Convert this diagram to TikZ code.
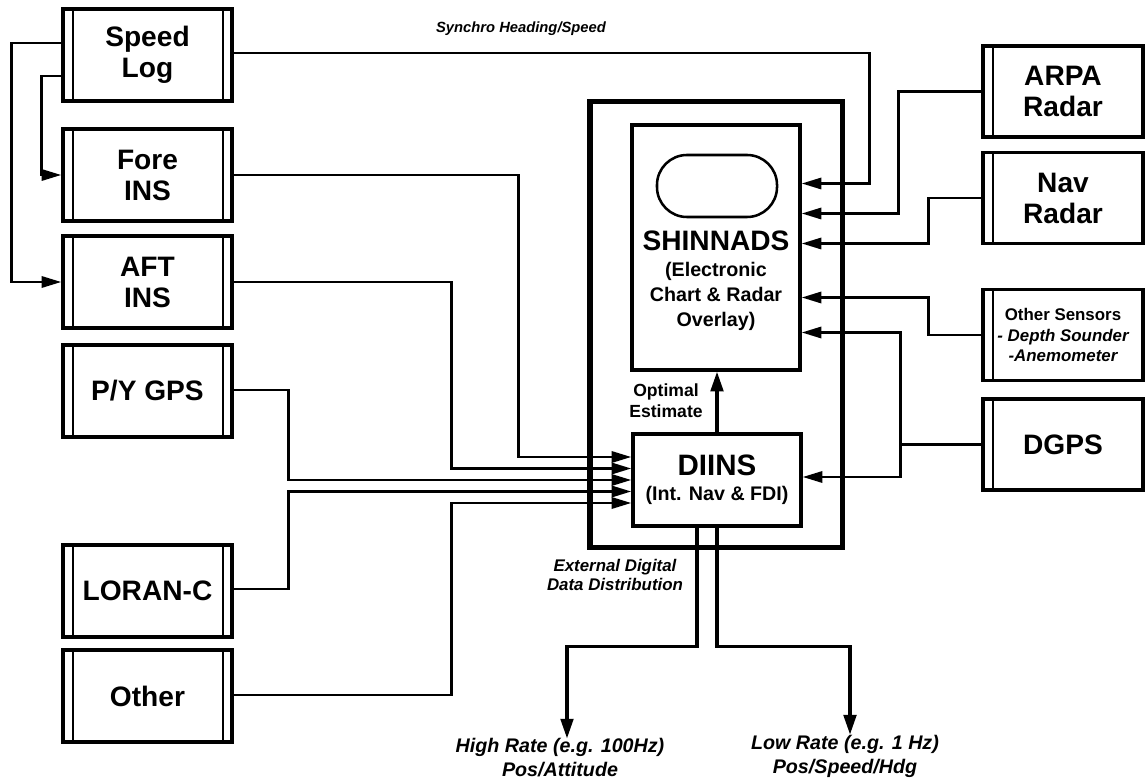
\documentclass[tikz,border=0pt]{standalone}
\usepackage{fontspec}
\setmainfont{Liberation Sans}
\usepackage{tikz}
\usetikzlibrary{arrows.meta, calc}

\begin{document}
\begin{tikzpicture}[
  x=0.025cm, y=-0.025cm,
  wire/.style={line width=1.8pt},
  arrow/.style={-{Triangle[length=14pt,width=8pt]}, line width=1.8pt},
  fatarrow/.style={-{Triangle[length=14pt,width=9pt]}, line width=2.2pt},
  boxfont/.style={font=\fontsize{20}{22}\selectfont\bfseries},
  srcbox/.style={rectangle, draw, line width=2.4pt, boxfont, align=center,
                 minimum width=4.225cm, minimum height=2.3cm,
                 path picture={
                   \draw[line width=1.4pt]
                     ([xshift=0.25cm]path picture bounding box.south west) --
                     ([xshift=0.25cm]path picture bounding box.north west);
                   \draw[line width=1.4pt]
                     ([xshift=-0.22cm]path picture bounding box.south east) --
                     ([xshift=-0.22cm]path picture bounding box.north east);}},
  sidebox/.style={rectangle, draw, line width=2.4pt, boxfont, align=center,
                 minimum width=4cm, minimum height=2.275cm,
                 path picture={
                   \draw[line width=1.4pt]
                     ([xshift=0.25cm]path picture bounding box.south west) --
                     ([xshift=0.25cm]path picture bounding box.north west);}},
  unit/.style={rectangle, draw, line width=2.4pt, align=center,
               minimum width=4.2cm, minimum height=2.3cm},
  frame/.style={rectangle, draw, line width=3.6pt,
                minimum width=6.3cm, minimum height=11.125cm},
  screen/.style={rectangle, draw, line width=1.8pt, rounded corners=0.75cm,
                 minimum width=3cm, minimum height=1.55cm},
  note/.style={font=\fontsize{12}{14}\selectfont\bfseries\itshape,
               align=center, inner sep=0pt},
]
  \useasboundingbox (0,0) rectangle (1145,780);

  % Sensors, left column
  \node[srcbox] (speed) at (147.5,55)  {Speed\\Log};
  \node[srcbox] (fore)  at (147.5,175) {Fore\\INS};
  \node[srcbox] (aft)   at (147.5,282) {AFT\\INS};
  \node[srcbox] (pygps) at (147.5,391) {P/Y GPS};
  \node[srcbox] (loran) at (147.5,591) {LORAN-C};
  \node[srcbox] (other) at (147.5,696) {Other};

  % Sensors, right column
  \node[sidebox] (arpa)    at (1063,91.5)  {ARPA\\Radar};
  \node[sidebox] (nav)     at (1063,198)   {Nav\\Radar};
  \node[sidebox, font=\fontsize{12}{14.5}\selectfont\bfseries] (sensors) at (1063,335)
        {Other Sensors\\{\itshape - Depth Sounder}\\{\itshape -Anemometer}};
  \node[sidebox] (dgps)    at (1063,444.5) {DGPS};

  % Console
  \node[frame]  (frame) at (716,324.5) {};
  \node[unit, minimum height=6.125cm] (shin) at (716,247.5) {};
  \node[screen] (scr) at (717,186) {};
  \node[align=center, font=\fontsize{14}{18}\selectfont\bfseries] (shintext) at (716,281)
        {{\fontsize{20}{24}\selectfont SHINNADS}\\(Electronic\\Chart \& Radar\\Overlay)};
  \node[unit, font=\fontsize{14}{18}\selectfont\bfseries] (diins) at (717,480)
        {{\fontsize{21}{24}\selectfont DIINS}\\(Int. Nav \& FDI)};

  % Labels
  \node[note, font=\fontsize{10.5}{12}\selectfont\bfseries\itshape] (synlabel) at (521,29)
        {Synchro Heading/Speed};
  \node[note, font=\fontsize{12.5}{15}\selectfont\bfseries] (optlabel) at (666,401)
        {Optimal\\Estimate};
  \node[note] (extlabel) at (615,575) {External Digital\\Data Distribution};
  \node[note, font=\fontsize{14}{17}\selectfont\bfseries\itshape] (highrate) at (560,758)
        {High Rate (e.g. 100Hz)\\Pos/Attitude};
  \node[note, font=\fontsize{14}{17}\selectfont\bfseries\itshape] (lowrate) at (845,756)
        {Low Rate (e.g. 1 Hz)\\Pos/Speed/Hdg};

  % Speed log to the INS units
  \draw[arrow] ($(speed.west)+(0,-12)$) -- ++(-50,0) |- (aft.west);
  \draw[arrow] ($(speed.west)+(0,21)$) -- ++(-20,0) |- (fore.west);

  % Inputs to SHINNADS
  \draw[arrow] ($(speed.east)+(0,-2)$) -- ++(636,0) |- ($(shin.east)+(0,-64)$);
  \draw[arrow] (arpa.west) -- ++(-83,0) |- ($(shin.east)+(0,-34)$);
  \draw[arrow] (nav.west) -- ++(-53,0) |- ($(shin.east)+(0,-4)$);
  \draw[arrow] (sensors.west) -- ++(-53,0) |- ($(shin.east)+(0,50)$);
  \draw[wire]  (dgps.west) -- ++(-81,0) coordinate (dj);
  \draw[arrow] (dj) |- ($(shin.east)+(0,85)$);

  % Inputs to DIINS
  \draw[arrow] (dj) |- ($(diins.east)+(0,-3)$);
  \draw[arrow] (fore.east) -- ++(285,0) |- ($(diins.west)+(0,-23)$);
  \draw[arrow] (aft.east) -- ++(218,0) |- ($(diins.west)+(0,-11.5)$);
  \draw[arrow] ($(pygps.east)+(0,-1)$) -- ++(55,0) |- (diins.west);
  \draw[arrow] ($(loran.east)+(0,-2)$) -- ++(55,0) |- ($(diins.west)+(0,11.5)$);
  \draw[arrow] ($(other.east)+(0,-1)$) -- ++(218,0) |- ($(diins.west)+(0,23)$);

  % Optimal estimate
  \draw[fatarrow] (diins.north) -- (diins.north |- shin.south);

  % External distribution
  \draw[fatarrow] ($(diins.south)+(-20,0)$) -- ++(0,119) -| ($(highrate.north)+(7,0)$);
  \draw[fatarrow] (diins.south) -- ++(0,119) -| ($(lowrate.north)+(5,0)$);
\end{tikzpicture}
\end{document}
